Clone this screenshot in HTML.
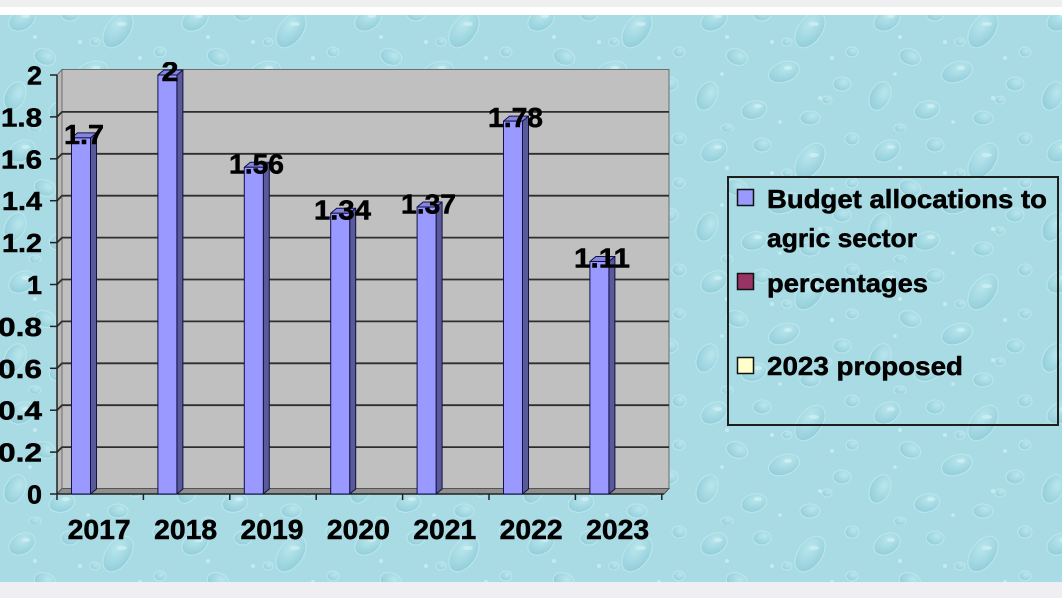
<!DOCTYPE html>
<html>
<head>
<meta charset="utf-8">
<style>
  html,body{margin:0;padding:0;}
  body{width:1062px;height:598px;overflow:hidden;background:#f0f0f2;}
  svg{display:block;}
  text{font-family:"Liberation Sans",Arial,sans-serif;font-weight:bold;fill:#000;stroke:#000;stroke-width:0.5;}
</style>
</head>
<body>
<svg width="1062" height="598" viewBox="0 0 1062 598" xmlns="http://www.w3.org/2000/svg">
  <defs>
    <radialGradient id="dg" cx="0.62" cy="0.35" r="0.75">
      <stop offset="0" stop-color="#c0eaf0"/>
      <stop offset="0.6" stop-color="#9dd5e0"/>
      <stop offset="1" stop-color="#86c6d4"/>
    </radialGradient>
    <pattern id="drops" width="173" height="131" patternUnits="userSpaceOnUse">
      <rect width="173" height="131" fill="#a9dbe5"/>
      <g fill="url(#dg)" stroke="#c4ebf1" stroke-width="1" opacity="0.75">
        <ellipse cx="22" cy="20" rx="14" ry="10" transform="rotate(-30 22 20)"/>
        <ellipse cx="70" cy="14" rx="9" ry="7"/>
        <ellipse cx="118" cy="30" rx="20" ry="12" transform="rotate(-55 118 30)"/>
        <ellipse cx="45" cy="57" rx="11" ry="8" transform="rotate(20 45 57)"/>
        <ellipse cx="92" cy="72" rx="16" ry="10" transform="rotate(-20 92 72)"/>
        <ellipse cx="150" cy="84" rx="9" ry="7"/>
        <ellipse cx="15" cy="96" rx="10" ry="15" transform="rotate(25 15 96)"/>
        <ellipse cx="62" cy="110" rx="13" ry="9" transform="rotate(-15 62 110)"/>
        <ellipse cx="118" cy="118" rx="10" ry="7"/>
        <ellipse cx="160" cy="8" rx="7" ry="6"/>
        <ellipse cx="160" cy="52" rx="6" ry="5"/>
        <ellipse cx="135" cy="100" rx="5" ry="4"/>
        <ellipse cx="35" cy="128" rx="6" ry="4"/>
        <ellipse cx="95" cy="42" rx="5" ry="4"/>
      </g>
      <g fill="#d2f1f5" opacity="0.7">
        <ellipse cx="26" cy="16" rx="4" ry="2"/>
        <ellipse cx="122" cy="24" rx="5" ry="2"/>
        <ellipse cx="96" cy="68" rx="4" ry="2"/>
        <ellipse cx="66" cy="106" rx="4" ry="2"/>
        <circle cx="35" cy="37" r="2"/>
        <circle cx="80" cy="42" r="2"/>
        <circle cx="140" cy="58" r="2"/>
        <circle cx="30" cy="74" r="1.8"/>
        <circle cx="128" cy="98" r="2"/>
        <circle cx="88" cy="122" r="1.8"/>
      </g>
    </pattern>
    <clipPath id="chartclip"><rect x="0" y="62" width="1062" height="536"/></clipPath>
  </defs>

  <rect x="0" y="0" width="1062" height="7" fill="#efeff1"/>
  <rect x="0" y="7" width="1062" height="8" fill="#ffffff"/>
  <rect x="0" y="15" width="1062" height="567" fill="url(#drops)"/>
  <rect x="0" y="582" width="1062" height="16" fill="#efeff3"/>

  <rect x="62" y="69.5" width="607" height="419" fill="#c0c0c0" stroke="#6e6e6e" stroke-width="1"/>
  <polygon points="57,75 62,69.5 62,488.5 57,494" fill="#b8b8b8" stroke="#6e6e6e" stroke-width="1"/>
  <polygon points="57,494 62,488.5 669,488.5 664,494" fill="#8f8f8f" stroke="#555" stroke-width="1"/>

  <g stroke="#2e2e2e" stroke-width="1.8" fill="none">
    <path d="M57,452.1 L62,447.1 L669,447.1"/>
    <path d="M57,410.2 L62,405.2 L669,405.2"/>
    <path d="M57,368.3 L62,363.3 L669,363.3"/>
    <path d="M57,326.4 L62,321.4 L669,321.4"/>
    <path d="M57,284.5 L62,279.5 L669,279.5"/>
    <path d="M57,242.6 L62,237.6 L669,237.6"/>
    <path d="M57,200.7 L62,195.7 L669,195.7"/>
    <path d="M57,158.8 L62,153.8 L669,153.8"/>
    <path d="M57,116.9 L62,111.9 L669,111.9"/>
  </g>

  <g stroke="#222" stroke-width="1.5" fill="none">
    <line x1="57" y1="75" x2="57" y2="494"/>
    <line x1="57" y1="494" x2="664" y2="494"/>
    <line x1="50" y1="494" x2="57" y2="494"/>
    <line x1="50" y1="452.1" x2="57" y2="452.1"/>
    <line x1="50" y1="410.2" x2="57" y2="410.2"/>
    <line x1="50" y1="368.3" x2="57" y2="368.3"/>
    <line x1="50" y1="326.4" x2="57" y2="326.4"/>
    <line x1="50" y1="284.5" x2="57" y2="284.5"/>
    <line x1="50" y1="242.6" x2="57" y2="242.6"/>
    <line x1="50" y1="200.7" x2="57" y2="200.7"/>
    <line x1="50" y1="158.8" x2="57" y2="158.8"/>
    <line x1="50" y1="116.9" x2="57" y2="116.9"/>
    <line x1="50" y1="75" x2="57" y2="75"/>
    <line x1="57" y1="494" x2="57" y2="500"/>
    <line x1="143.4" y1="494" x2="143.4" y2="500"/>
    <line x1="229.8" y1="494" x2="229.8" y2="500"/>
    <line x1="316.2" y1="494" x2="316.2" y2="500"/>
    <line x1="402.6" y1="494" x2="402.6" y2="500"/>
    <line x1="489" y1="494" x2="489" y2="500"/>
    <line x1="575.4" y1="494" x2="575.4" y2="500"/>
    <line x1="661.8" y1="494" x2="661.8" y2="500"/>
  </g>

  <g stroke="#10104a" stroke-width="1" stroke-linejoin="round">
    <polygon points="90.5,137.85 96.5,132.85 96.5,489 90.5,494" fill="#5a5a98"/>
    <polygon points="71.5,137.85 77.5,132.85 96.5,132.85 90.5,137.85" fill="#8585dd"/>
    <rect x="71.5" y="137.85" width="19" height="356.15" fill="#9999ff"/>

    <polygon points="176.9,75 182.9,70 182.9,489 176.9,494" fill="#5a5a98"/>
    <polygon points="157.9,75 163.9,70 182.9,70 176.9,75" fill="#8585dd"/>
    <rect x="157.9" y="75" width="19" height="419" fill="#9999ff"/>

    <polygon points="263.3,167.2 269.3,162.2 269.3,489 263.3,494" fill="#5a5a98"/>
    <polygon points="244.3,167.2 250.3,162.2 269.3,162.2 263.3,167.2" fill="#8585dd"/>
    <rect x="244.3" y="167.2" width="19" height="326.8" fill="#9999ff"/>

    <polygon points="349.7,213.3 355.7,208.3 355.7,489 349.7,494" fill="#5a5a98"/>
    <polygon points="330.7,213.3 336.7,208.3 355.7,208.3 349.7,213.3" fill="#8585dd"/>
    <rect x="330.7" y="213.3" width="19" height="280.7" fill="#9999ff"/>

    <polygon points="436.1,207 442.1,202 442.1,489 436.1,494" fill="#5a5a98"/>
    <polygon points="417.1,207 423.1,202 442.1,202 436.1,207" fill="#8585dd"/>
    <rect x="417.1" y="207" width="19" height="287" fill="#9999ff"/>

    <polygon points="522.5,121.1 528.5,116.1 528.5,489 522.5,494" fill="#5a5a98"/>
    <polygon points="503.5,121.1 509.5,116.1 528.5,116.1 522.5,121.1" fill="#8585dd"/>
    <rect x="503.5" y="121.1" width="19" height="372.9" fill="#9999ff"/>

    <polygon points="608.9,261.45 614.9,256.45 614.9,489 608.9,494" fill="#5a5a98"/>
    <polygon points="589.9,261.45 595.9,256.45 614.9,256.45 608.9,261.45" fill="#8585dd"/>
    <rect x="589.9" y="261.45" width="19" height="232.55" fill="#9999ff"/>
  </g>

  <g clip-path="url(#chartclip)">
    <g font-size="27.5" text-anchor="middle">
      <text x="84" y="144" textLength="40" lengthAdjust="spacingAndGlyphs">1.7</text>
      <text x="170" y="81" textLength="17" lengthAdjust="spacingAndGlyphs">2</text>
      <text x="256.5" y="173.5" textLength="55" lengthAdjust="spacingAndGlyphs">1.56</text>
      <text x="342.5" y="219.5" textLength="57" lengthAdjust="spacingAndGlyphs">1.34</text>
      <text x="428.5" y="213.5" textLength="55" lengthAdjust="spacingAndGlyphs">1.37</text>
      <text x="515.5" y="127" textLength="55" lengthAdjust="spacingAndGlyphs">1.78</text>
      <text x="602" y="267.5" textLength="56" lengthAdjust="spacingAndGlyphs">1.11</text>
    </g>

    <g font-size="26" text-anchor="end">
      <text x="42" y="503.5" textLength="15" lengthAdjust="spacingAndGlyphs">0</text>
      <text x="42" y="461.6" textLength="44" lengthAdjust="spacingAndGlyphs">0.2</text>
      <text x="42" y="419.7" textLength="44" lengthAdjust="spacingAndGlyphs">0.4</text>
      <text x="42" y="377.8" textLength="44" lengthAdjust="spacingAndGlyphs">0.6</text>
      <text x="42" y="335.9" textLength="44" lengthAdjust="spacingAndGlyphs">0.8</text>
      <text x="42" y="294" textLength="15" lengthAdjust="spacingAndGlyphs">1</text>
      <text x="42" y="252.1" textLength="40" lengthAdjust="spacingAndGlyphs">1.2</text>
      <text x="42" y="210.2" textLength="40" lengthAdjust="spacingAndGlyphs">1.4</text>
      <text x="42" y="168.3" textLength="41" lengthAdjust="spacingAndGlyphs">1.6</text>
      <text x="42" y="126.4" textLength="41" lengthAdjust="spacingAndGlyphs">1.8</text>
      <text x="42" y="84.5" textLength="15" lengthAdjust="spacingAndGlyphs">2</text>
    </g>
  </g>

  <g font-size="27.5" text-anchor="middle">
    <text x="99.2" y="539" textLength="63" lengthAdjust="spacingAndGlyphs">2017</text>
    <text x="185.6" y="539" textLength="63" lengthAdjust="spacingAndGlyphs">2018</text>
    <text x="272" y="539" textLength="63" lengthAdjust="spacingAndGlyphs">2019</text>
    <text x="358.4" y="539" textLength="63" lengthAdjust="spacingAndGlyphs">2020</text>
    <text x="444.8" y="539" textLength="63" lengthAdjust="spacingAndGlyphs">2021</text>
    <text x="531.2" y="539" textLength="63" lengthAdjust="spacingAndGlyphs">2022</text>
    <text x="617.6" y="539" textLength="63" lengthAdjust="spacingAndGlyphs">2023</text>
  </g>

  <rect x="728" y="177" width="330" height="248" fill="none" stroke="#1e1e1e" stroke-width="2"/>
  <rect x="737.5" y="189.5" width="16" height="16" fill="#9999ff" stroke="#111" stroke-width="1.5"/>
  <rect x="737.5" y="273.5" width="16" height="16" fill="#993366" stroke="#111" stroke-width="1.5"/>
  <rect x="737.5" y="357.5" width="16" height="16" fill="#ffffcc" stroke="#111" stroke-width="1.5"/>
  <g font-size="26">
    <text x="767" y="208" textLength="280" lengthAdjust="spacingAndGlyphs">Budget allocations to</text>
    <text x="767" y="247" textLength="150" lengthAdjust="spacingAndGlyphs">agric sector</text>
    <text x="767" y="292" textLength="161" lengthAdjust="spacingAndGlyphs">percentages</text>
    <text x="767" y="375" textLength="196" lengthAdjust="spacingAndGlyphs">2023 proposed</text>
  </g>
</svg>
</body>
</html>
